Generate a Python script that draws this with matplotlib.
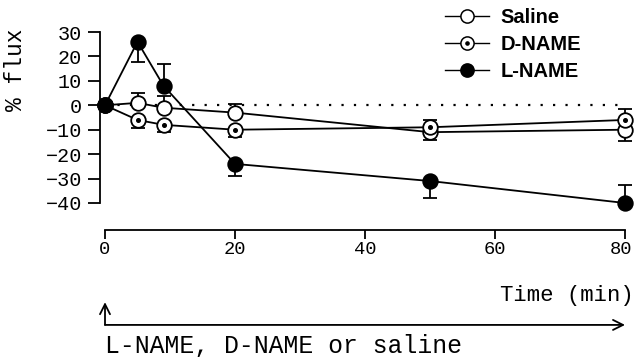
import numpy as np
import matplotlib.pyplot as plt
import matplotlib.transforms as mtransforms
from matplotlib.lines import Line2D

# dados
tempo = [0, 5, 9, 20, 50, 80]

saline = [0, 1, -1, -3, -11, -10]
saline_err_baixo = [0, 0, 0, 0, 3.4, 4.8]
saline_err_cima = [0, 3.9, 4.7, 3.4, 0, 0]

dname = [0, -6, -8, -10, -9, -6]
dname_err_baixo = [0, 3.4, 2.9, 3.0, 0, 0]
dname_err_cima = [0, 0, 0, 0, 3.1, 4.6]

lname = [0, 26, 8, -24, -31, -40]
lname_err_baixo = [0, 8.3, 0, 5.0, 7.1, 0]
lname_err_cima = [0, 0, 8.7, 0, 0, 7.5]

y_ticks = [30, 20, 10, 0, -10, -20, -30, -40]
x_ticks = [0, 20, 40, 60, 80]

mono = 'Liberation Mono'
sans = 'Liberation Sans'

fig = plt.figure(figsize=(6.34, 3.57), dpi=100)
ax = fig.add_axes([100/634, 154/357, 534/634, 171/357])

ax.set_xlim(-5/6.5, 80 + 9/6.5)
ax.set_ylim(-40, 30)

# linha pontilhada no zero
ax.plot([tempo[0], tempo[-1]], [0, 0], color='black', lw=1.6,
        linestyle=(0, (1, 4.6)), zorder=1)

series = [
    ('Saline', saline, saline_err_baixo, saline_err_cima, 'white'),
    ('D-NAME', dname, dname_err_baixo, dname_err_cima, 'white'),
    ('L-NAME', lname, lname_err_baixo, lname_err_cima, 'black'),
]

leg_handles = []
for i, (nome, y, eb, ec, cor) in enumerate(series):
    z = 3 + i
    ax.errorbar(tempo, y, yerr=[eb, ec], fmt='none', ecolor='black',
                elinewidth=1.3, capsize=5, capthick=1.3, zorder=z, clip_on=False)
    ax.plot(tempo, y, color='black', lw=1.3, marker='o', markersize=10.5,
            markerfacecolor=cor, markeredgecolor='black', markeredgewidth=1.3,
            zorder=z, clip_on=False)
    h = Line2D([], [], color='black', lw=1.0, marker='o', markersize=9.5,
               markerfacecolor=cor, markeredgecolor='black', markeredgewidth=1.1)
    if nome == 'D-NAME':
        ax.plot(tempo, y, linestyle='none', marker='o', markersize=2.6,
                color='black', zorder=z + 0.5, clip_on=False)
        ponto = Line2D([], [], linestyle='none', marker='o', markersize=2.3, color='black')
        h = (h, ponto)
    leg_handles.append(h)

# legenda
ax.legend(leg_handles, [s[0] for s in series], loc='upper left',
          bbox_to_anchor=(445/634, 1 - 8/357), bbox_transform=fig.transFigure,
          frameon=False, handlelength=2.2, handletextpad=0.55, labelspacing=0.4,
          borderpad=0, borderaxespad=0,
          prop={'family': sans, 'weight': 'bold', 'size': 14.5})

# eixos
for s in ['top', 'right']:
    ax.spines[s].set_visible(False)
ax.spines['left'].set_bounds(-40, 30)
ax.spines['bottom'].set_bounds(0, 80)
ax.spines['bottom'].set_position(('outward', 19.5))
ax.spines['left'].set_linewidth(1.3)
ax.spines['bottom'].set_linewidth(1.3)

ax.set_yticks(y_ticks)
ax.set_xticks(x_ticks)
ax.tick_params(axis='y', length=9, width=1.3, pad=4)
ax.tick_params(axis='x', length=6.5, width=1.3, pad=1.5)
ax.set_yticklabels([str(v).replace('-', '\u2212') for v in y_ticks])
for lab in ax.get_yticklabels():
    lab.set_family(mono)
    lab.set_fontsize(14.5)
for lab in ax.get_xticklabels():
    lab.set_family(mono)
    lab.set_fontsize(13.5)
# o ultimo rotulo fica encostado na borda
ultimo = ax.get_xticklabels()[-1]
ultimo.set_transform(ultimo.get_transform() +
                     mtransforms.ScaledTranslation(-4/100, 0, fig.dpi_scale_trans))

fig.text(16/634, 1 - 70/357, '% flux', rotation=90, ha='center', va='center',
         family=mono, fontsize=16.5)

ax.text(1.0, -0.54, 'Time (min)', transform=ax.transAxes, ha='right', va='center',
        family=mono, fontsize=16)

# setas do tratamento
trans = mtransforms.blended_transform_factory(ax.transData, ax.transAxes)
ax.annotate('', xy=(80, -0.713), xytext=(0, -0.713), xycoords=trans, textcoords=trans,
            arrowprops=dict(arrowstyle='->', lw=1.3, color='black',
                            mutation_scale=18, shrinkA=0, shrinkB=0),
            annotation_clip=False)
ax.annotate('', xy=(0, -0.58), xytext=(0, -0.713), xycoords=trans, textcoords=trans,
            arrowprops=dict(arrowstyle='->', lw=1.3, color='black',
                            mutation_scale=18, shrinkA=0, shrinkB=0),
            annotation_clip=False)
ax.text(0, -0.835, 'L-NAME, D-NAME or saline', transform=trans, ha='left', va='center',
        family=mono, fontsize=17.8)

fig.savefig('out.png', dpi=100)
